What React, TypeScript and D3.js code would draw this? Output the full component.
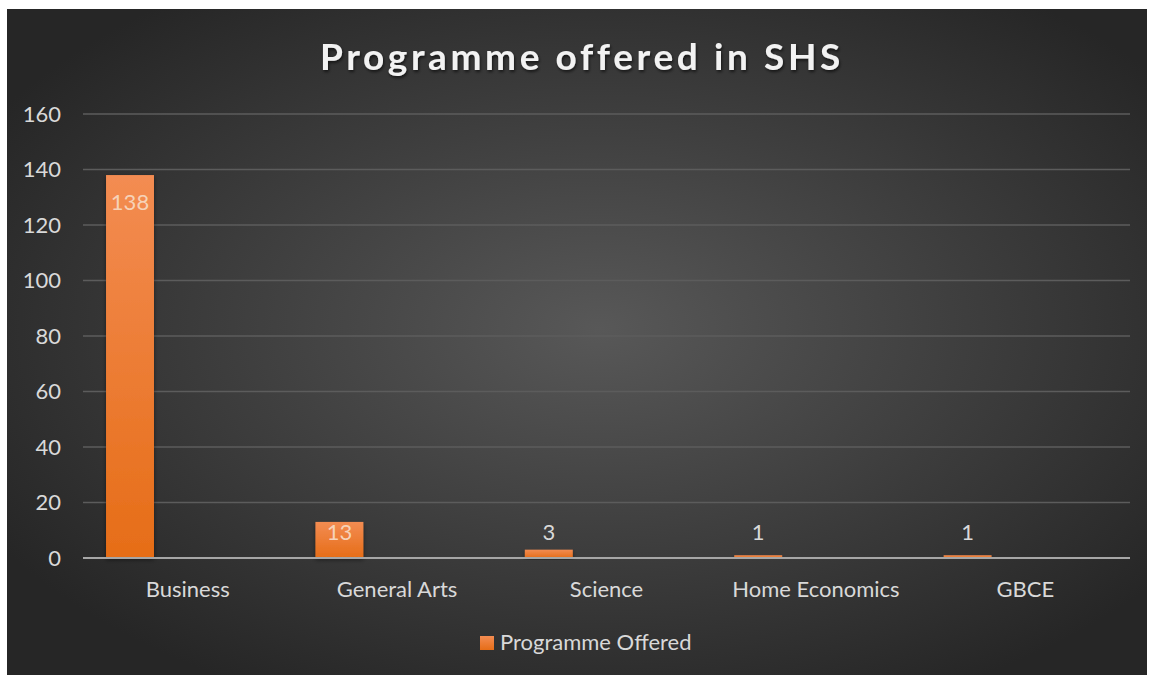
import React from "react";
import * as d3 from "d3";

const categories = ["Business", "General Arts", "Science", "Home Economics", "GBCE"];
const values = [138, 13, 3, 1, 1];
const seriesName = "Programme Offered";
const yTicks = [0, 20, 40, 60, 80, 100, 120, 140, 160];
const title = "Programme offered in SHS";

const W = 1152, H = 677;
const FONT = "Lato, 'Open Sans', sans-serif";

export default function App() {
  const left = 83, right = 1130, top = 114, bottom = 558;
  const x = d3.scaleBand<string>().domain(categories).range([left, right]).padding(0);
  const y = d3.scaleLinear().domain([0, 160]).range([bottom, top]);
  const bw = x.bandwidth();
  const barOff = bw * 0.11, barW = bw * 0.229;

  return (
    <svg width={W} height={H} style={{ position: "absolute", left: 0, top: 0, display: "block" }}>
      <defs>
        <radialGradient id="bg" cx="0.52" cy="0.48" r="0.62" fx="0.52" fy="0.48">
          <stop offset="0" stopColor="#585858" />
          <stop offset="1" stopColor="#262626" />
        </radialGradient>
        <linearGradient id="bar" x1="0" y1="0" x2="0" y2="1">
          <stop offset="0" stopColor="#f38c52" />
          <stop offset="1" stopColor="#e66d17" />
        </linearGradient>
        <filter id="ts" x="-5%" y="-20%" width="110%" height="150%">
          <feDropShadow dx="1" dy="2" stdDeviation="1.5" floodColor="#000" floodOpacity="0.6" />
        </filter>
        <filter id="bs" x="-20%" y="-5%" width="140%" height="120%">
          <feDropShadow dx="0" dy="2" stdDeviation="2" floodColor="#000" floodOpacity="0.45" />
        </filter>
      </defs>
      <rect x={0} y={0} width={W} height={H} fill="#ffffff" />
      <rect x={7} y={9} width={1140} height={666} fill="url(#bg)" />
      <text x={582} y={70} textAnchor="middle" fill="#f2f2f2" fontFamily={FONT}
        fontWeight="bold" fontSize={37} letterSpacing={3.6} filter="url(#ts)">{title}</text>
      {yTicks.map((t) => (
        <g key={t}>
          {t !== 0 && (
            <line x1={left} x2={right} y1={y(t)} y2={y(t)} stroke="#5c5c5c" strokeWidth={1.5} />
          )}
          <text x={61} y={y(t) + 7.5} textAnchor="end" fill="#d9d9d9" fontFamily={FONT} fontSize={22}>{t}</text>
        </g>
      ))}
      {categories.map((c, i) => {
        const v = values[i];
        const bx = (x(c) as number) + barOff;
        const by = y(v);
        const h = bottom - by;
        const inside = h > 30;
        const ly = inside ? by + Math.min(35, h / 2) : Math.min(by - 10, 540);
        return (
          <g key={c}>
            <rect x={bx} y={by} width={barW} height={Math.max(h, 3)} fill="url(#bar)" filter="url(#bs)" />
            <text x={bx + barW / 2} y={ly} textAnchor="middle"
              fill={inside ? "#f6d2b8" : "#d9d9d9"} fontFamily={FONT} fontSize={22}>{v}</text>
            <text x={(x(c) as number) + bw / 2} y={597} textAnchor="middle" fill="#d9d9d9"
              fontFamily={FONT} fontSize={22}>{c}</text>
          </g>
        );
      })}
      <line x1={left} x2={right} y1={bottom} y2={bottom} stroke="#a6a6a6" strokeWidth={2} />
      <rect x={480} y={636} width={14} height={14} fill="url(#bar)" />
      <text x={500} y={650} fill="#d9d9d9" fontFamily={FONT} fontSize={22}>{seriesName}</text>
    </svg>
  );
}
